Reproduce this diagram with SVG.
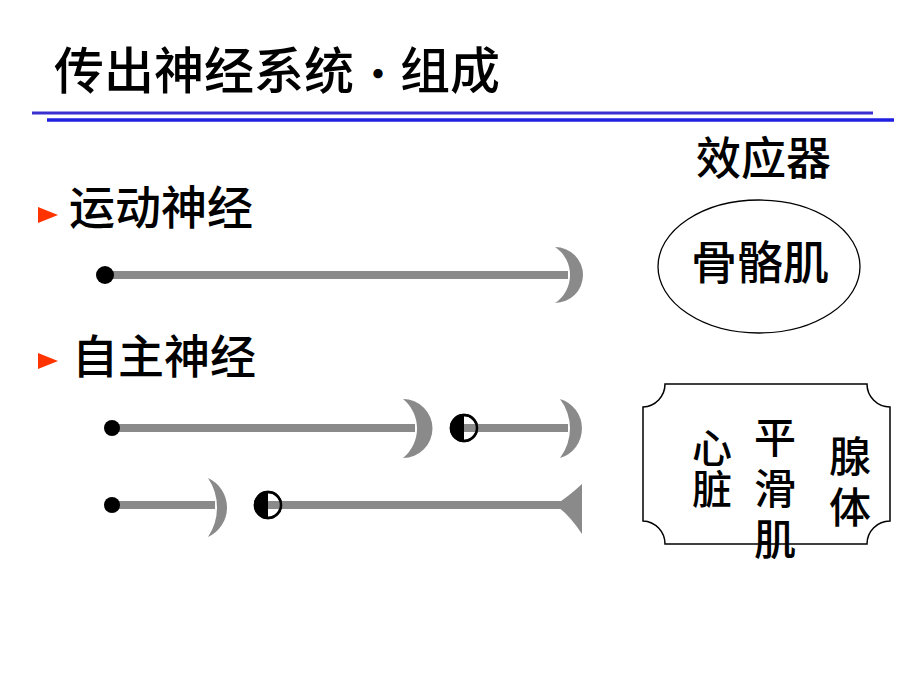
<svg xmlns="http://www.w3.org/2000/svg" width="920" height="690" viewBox="0 0 920 690">
<style>
.t{font-family:"Noto Sans CJK SC","Noto Sans CJK JP",sans-serif;fill:#000;font-weight:500}
.v{writing-mode:vertical-rl;text-orientation:upright}
.ax{stroke:#8a8a8a;stroke-width:8;fill:none}
.g{fill:#8a8a8a}
.dot{fill:#000}
.bul{fill:#ff3300}
</style>
<rect width="920" height="690" fill="#fff"/>
<g id="title">
<text class="t" x="54" y="89" font-size="50">传出神经系统</text>
<text class="t" x="378" y="89" font-size="40" text-anchor="middle">·</text>
<text class="t" x="400" y="89" font-size="50">组成</text>
<line x1="32" y1="113" x2="873" y2="113" stroke="#3a30d0" stroke-width="3"/>
<line x1="47" y1="120" x2="894" y2="120" stroke="#2020e0" stroke-width="3.5"/>
</g>
<g id="motor-label">
<polygon class="bul" points="38,207 58,215 38,223"/>
<text class="t" x="69" y="224" font-size="46">运动神经</text>
</g>
<g id="auto-label">
<polygon class="bul" points="38,353 58,361 38,369"/>
<text class="t" x="72" y="373" font-size="46">自主神经</text>
</g>
<g id="effector-label">
<text class="t" x="696" y="175" font-size="45">效应器</text>
</g>
<g id="skeletal">
<ellipse cx="759" cy="266.5" rx="101" ry="66.5" fill="none" stroke="#000" stroke-width="1.3"/>
<text class="t" x="691" y="279" font-size="46">骨骼肌</text>
</g>
<g id="visceral">
<path d="M665,384 H867 A23,23 0 0 0 890,407 V521 A23,23 0 0 0 867,544 H665 A23,23 0 0 0 643,521 V407 A23,23 0 0 0 665,384 Z" fill="none" stroke="#000" stroke-width="1.5"/>
<text class="t v" font-size="40" x="712" y="428" letter-spacing="1">心脏</text>
<text class="t v" font-size="42" x="775" y="416" letter-spacing="9">平滑肌</text>
<text class="t v" font-size="42" x="850" y="435" letter-spacing="9">腺体</text>
</g>
<g id="connectors">
<line class="ax" x1="105" y1="275" x2="568" y2="275"/>
<path class="g" d="M555,247 A28,28 0 0 1 555,303 A33.6,33.6 0 0 0 555,247 Z"/>
<circle class="dot" cx="105" cy="275" r="9"/>
<line class="ax" x1="112" y1="428" x2="415" y2="428"/>
<path class="g" d="M403,399 A29.5,29.5 0 0 1 403,458 A38,38 0 0 0 403,399 Z"/>
<circle class="dot" cx="112" cy="428" r="8"/>
<circle cx="464" cy="428" r="13" fill="#fff" stroke="#000" stroke-width="2.5"/>
<line class="ax" x1="464" y1="428" x2="568" y2="428"/>
<path d="M464,415 A13,13 0 0 0 464,441 Z" fill="#000"/>
<circle cx="464" cy="428" r="13" fill="none" stroke="#000" stroke-width="2.5"/>
<path class="g" d="M560,399 A30.8,30.8 0 0 1 560,458 A48.5,48.5 0 0 0 560,399 Z"/>
<line class="ax" x1="112" y1="505" x2="215" y2="505"/>
<path class="g" d="M208,478 A32.4,32.4 0 0 1 208,537 A52.8,52.8 0 0 0 208,478 Z"/>
<circle class="dot" cx="112" cy="505" r="8"/>
<circle cx="268" cy="505" r="13" fill="#fff" stroke="#000" stroke-width="2.5"/>
<line class="ax" x1="268" y1="505" x2="565" y2="505"/>
<path d="M268,492 A13,13 0 0 0 268,518 Z" fill="#000"/>
<circle cx="268" cy="505" r="13" fill="none" stroke="#000" stroke-width="2.5"/>
<path class="g" d="M555,505 Q568,497 582,484 L582,534 Q568,513 555,505 Z"/>
</g>
</svg>
